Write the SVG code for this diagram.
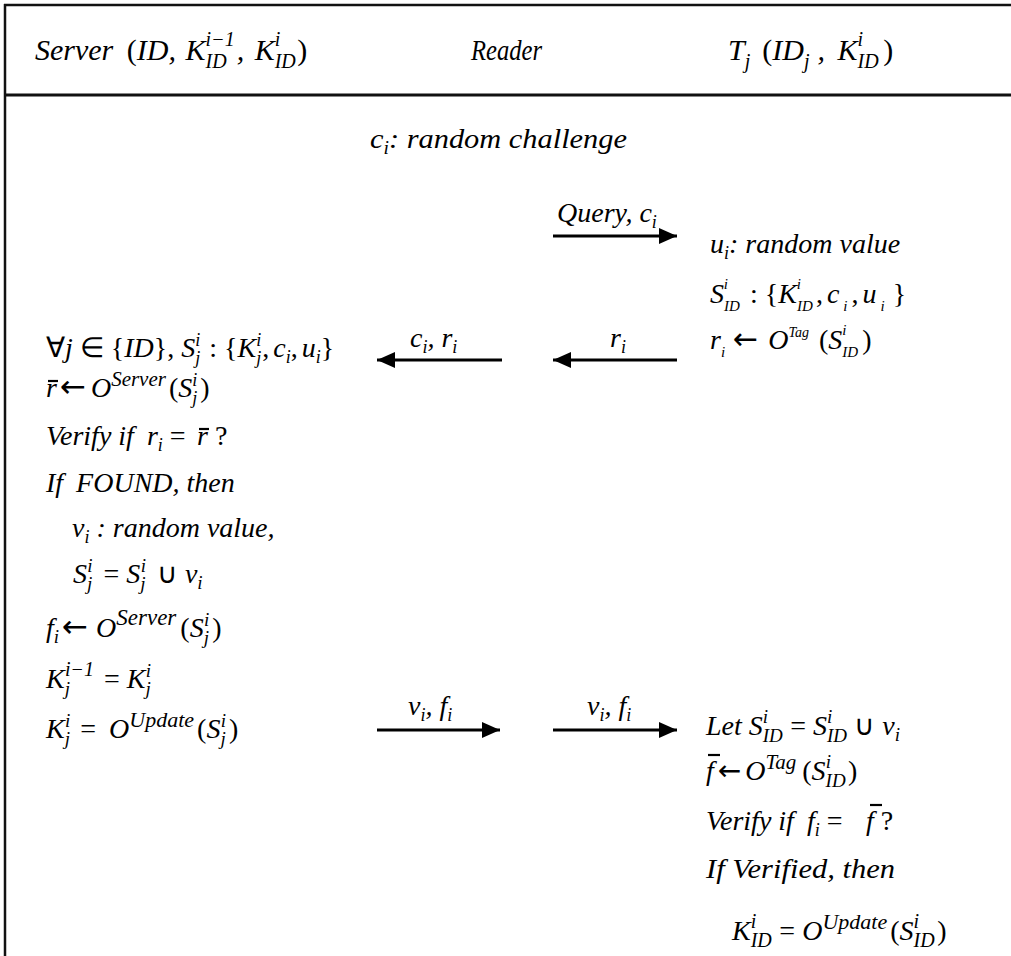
<svg xmlns="http://www.w3.org/2000/svg" width="1011" height="956" viewBox="0 0 1011 956">
<defs>
<marker id="ah" markerUnits="userSpaceOnUse" markerWidth="19" markerHeight="17" refX="18" refY="8" orient="auto">
<path d="M0,0 L18,8 L0,16 Z" fill="#000"/>
</marker>
</defs>
<rect width="1011" height="956" fill="#fff"/>
<g id="frame" stroke="#111" fill="none">
<line x1="4" y1="5" x2="1011" y2="5" stroke-width="2.5"/>
<line x1="5" y1="4" x2="5" y2="956" stroke-width="2.5"/>
<line x1="4" y1="95" x2="1011" y2="95" stroke-width="3"/>
</g>
<g id="header">
<text style="font-family:'Liberation Serif',serif;font-style:italic;font-size:30px" x="35" y="60">Server <tspan style="font-style:normal" dx="6">(</tspan>ID, <tspan dx="2">K</tspan><tspan style="font-size:20px" dy="8">ID</tspan><tspan style="font-size:20px" dx="-21" dy="-22">i−1</tspan><tspan dy="14" dx="2">, </tspan><tspan dx="3">K</tspan><tspan style="font-size:20px" dy="8">ID</tspan><tspan style="font-size:20px" dx="-21" dy="-22">i</tspan><tspan style="font-style:normal" dx="17" dy="14">)</tspan></text>
<text style="font-family:'Liberation Serif',serif;font-style:italic;font-size:30px" x="471" y="60" textLength="71" lengthAdjust="spacingAndGlyphs">Reader</text>
<text style="font-family:'Liberation Serif',serif;font-style:italic;font-size:30px" x="728" y="60">T<tspan style="font-size:20px" dy="8">j</tspan><tspan dy="-8" dx="12" style="font-style:normal">(</tspan>ID<tspan style="font-size:20px" dy="8">j</tspan><tspan dy="-8" dx="8">, </tspan><tspan dx="5">K</tspan><tspan style="font-size:20px" dy="8">ID</tspan><tspan style="font-size:20px" dx="-21" dy="-22">i</tspan><tspan style="font-style:normal" dx="20" dy="14">)</tspan></text>
</g>
<g id="reader">
<text style="font-family:'Liberation Serif',serif;font-style:italic;font-size:28px" x="370" y="148" textLength="257" lengthAdjust="spacingAndGlyphs">c<tspan style="font-size:18px" dy="6">i</tspan><tspan dy="-6">: random challenge</tspan></text>
</g>
<g id="server">
<text style="font-family:'Liberation Serif',serif;font-style:italic;font-size:28px" x="46" y="357"><tspan style="font-style:normal">∀</tspan>j <tspan style="font-style:normal">∈ {</tspan>ID<tspan style="font-style:normal">}, </tspan>S<tspan style="font-size:18px" dy="7">j</tspan><tspan style="font-size:18px" dx="-5" dy="-18">i</tspan><tspan style="font-style:normal" dx="2" dy="11"> : {</tspan>K<tspan style="font-size:18px" dy="7">j</tspan><tspan style="font-size:18px" dx="-5" dy="-18">i</tspan><tspan style="font-style:normal" dx="1" dy="11">,</tspan><tspan dx="4">c</tspan><tspan style="font-size:18px" dy="6">i</tspan><tspan style="font-style:normal" dy="-6">,</tspan><tspan dx="4">u</tspan><tspan style="font-size:18px" dy="6">i</tspan><tspan style="font-style:normal" dy="-6">}</tspan></text>
<text style="font-family:'Liberation Serif',serif;font-style:italic;font-size:28px" x="46" y="397">r<tspan style="font-style:normal;font-family:'DejaVu Sans';font-size:31px" dx="3">←</tspan><tspan dx="5">O</tspan><tspan style="font-size:21px" dy="-11">Server</tspan><tspan style="font-style:normal" dy="11" dx="3">(</tspan>S<tspan style="font-size:18px" dy="7">j</tspan><tspan style="font-size:18px" dx="-5" dy="-18">i</tspan><tspan style="font-style:normal" dx="3" dy="11">)</tspan></text>
<line x1="48" y1="381" x2="58" y2="381" stroke="#000" stroke-width="2.2"/>
<text style="font-family:'Liberation Serif',serif;font-style:italic;font-size:28px" x="46" y="445">Verify if <tspan dx="6">r</tspan><tspan style="font-size:18px" dy="6">i</tspan><tspan style="font-style:normal" dy="-6"> = </tspan></text>
<text style="font-family:'Liberation Serif',serif;font-style:italic;font-size:28px" x="197" y="445">r<tspan style="font-style:normal"> ?</tspan></text>
<line x1="199" y1="429" x2="209" y2="429" stroke="#000" stroke-width="2.2"/>
<text style="font-family:'Liberation Serif',serif;font-style:italic;font-size:28px" x="46" y="492">If <tspan dx="6">FOUND, then</tspan></text>
<text style="font-family:'Liberation Serif',serif;font-style:italic;font-size:28px" x="72" y="537">v<tspan style="font-size:18px" dy="6">i</tspan><tspan dy="-6"> : random value,</tspan></text>
<text style="font-family:'Liberation Serif',serif;font-style:italic;font-size:28px" x="73" y="583">S<tspan style="font-size:19px" dy="7">j</tspan><tspan style="font-size:19px" dx="-5" dy="-18">i</tspan><tspan style="font-style:normal" dx="4" dy="11"> = </tspan>S<tspan style="font-size:19px" dy="7">j</tspan><tspan style="font-size:19px" dx="-5" dy="-18">i</tspan><tspan style="font-style:normal" dx="4" dy="11"> ∪ </tspan>v<tspan style="font-size:19px" dy="6">i</tspan></text>
<text style="font-family:'Liberation Serif',serif;font-style:italic;font-size:28px" x="46" y="637">f<tspan style="font-size:19px" dy="6">i</tspan><tspan style="font-style:normal;font-family:'DejaVu Sans';font-size:31px" dy="-6" dx="3">←</tspan><tspan dx="8">O</tspan><tspan style="font-size:23px" dy="-12">Server</tspan><tspan style="font-style:normal" dy="12" dx="4">(</tspan>S<tspan style="font-size:19px" dy="7">j</tspan><tspan style="font-size:19px" dx="-5" dy="-18">i</tspan><tspan style="font-style:normal" dx="3" dy="11">)</tspan></text>
<text style="font-family:'Liberation Serif',serif;font-style:italic;font-size:28px" x="46" y="688">K<tspan style="font-size:19px" dy="7">j</tspan><tspan style="font-size:20px" dx="-5" dy="-19">i−1</tspan><tspan style="font-style:normal" dy="12" dx="3"> = </tspan>K<tspan style="font-size:19px" dy="7">j</tspan><tspan style="font-size:19px" dx="-5" dy="-18">i</tspan></text>
<text style="font-family:'Liberation Serif',serif;font-style:italic;font-size:28px" x="46" y="738">K<tspan style="font-size:19px" dy="7">j</tspan><tspan style="font-size:19px" dx="-5" dy="-18">i</tspan><tspan style="font-style:normal" dx="3" dy="11"> = </tspan><tspan dx="6">O</tspan><tspan style="font-size:22px" dy="-11">Update</tspan><tspan style="font-style:normal" dy="11" dx="3">(</tspan>S<tspan style="font-size:19px" dy="7">j</tspan><tspan style="font-size:19px" dx="-5" dy="-18">i</tspan><tspan style="font-style:normal" dx="3" dy="11">)</tspan></text>
</g>
<g id="tag">
<text style="font-family:'Liberation Serif',serif;font-style:italic;font-size:28px" x="710" y="253">u<tspan style="font-size:18px" dy="6">i</tspan><tspan dy="-6">: random value</tspan></text>
<text style="font-family:'Liberation Serif',serif;font-style:italic;font-size:28px" x="710" y="303">S<tspan style="font-size:15px" dy="8">ID</tspan><tspan style="font-size:15px" dx="-16" dy="-22">i</tspan><tspan style="font-style:normal" dx="22" dy="14">: {</tspan>K<tspan style="font-size:15px" dy="8">ID</tspan><tspan style="font-size:15px" dx="-16" dy="-22">i</tspan><tspan style="font-style:normal" dx="15" dy="14">,</tspan><tspan dx="4">c</tspan><tspan style="font-size:15px" dy="8" dx="4">i</tspan><tspan style="font-style:normal" dy="-8" dx="4">,</tspan><tspan dx="4">u</tspan><tspan style="font-size:15px" dy="8" dx="4">i</tspan><tspan style="font-style:normal" dy="-8" dx="8">}</tspan></text>
<text style="font-family:'Liberation Serif',serif;font-style:italic;font-size:28px" x="710" y="349">r<tspan style="font-size:15px" dy="8">i</tspan><tspan style="font-style:normal;font-family:'DejaVu Sans';font-size:30px" dy="-8" dx="8">←</tspan><tspan dx="10">O</tspan><tspan style="font-size:14px" dy="-12">Tag</tspan><tspan style="font-style:normal" dy="12" dx="10">(</tspan>S<tspan style="font-size:15px" dy="8">ID</tspan><tspan style="font-size:15px" dx="-16" dy="-22">i</tspan><tspan style="font-style:normal" dx="16" dy="14">)</tspan></text>
<text style="font-family:'Liberation Serif',serif;font-style:italic;font-size:28px" x="706" y="735">Let S<tspan style="font-size:19px" dy="7">ID</tspan><tspan style="font-size:19px" dx="-20" dy="-19">i</tspan><tspan style="font-style:normal" dx="15" dy="12"> = </tspan>S<tspan style="font-size:19px" dy="7">ID</tspan><tspan style="font-size:19px" dx="-20" dy="-19">i</tspan><tspan style="font-style:normal" dx="15" dy="12"> ∪ </tspan>v<tspan style="font-size:19px" dy="6">i</tspan></text>
<text style="font-family:'Liberation Serif',serif;font-style:italic;font-size:28px" x="706" y="780">f<tspan style="font-style:normal;font-family:'DejaVu Sans';font-size:28px" dx="4">←</tspan><tspan dx="4">O</tspan><tspan style="font-size:21px" dy="-11">Tag</tspan><tspan style="font-style:normal" dy="11" dx="6">(</tspan>S<tspan style="font-size:19px" dy="7">ID</tspan><tspan style="font-size:19px" dx="-20" dy="-19">i</tspan><tspan style="font-style:normal" dx="17" dy="12">)</tspan></text>
<line x1="708" y1="755" x2="720" y2="755" stroke="#000" stroke-width="2.2"/>
<text style="font-family:'Liberation Serif',serif;font-style:italic;font-size:28px" x="706" y="830">Verify if <tspan dx="6">f</tspan><tspan style="font-size:18px" dy="6">i</tspan><tspan style="font-style:normal" dy="-6"> = </tspan></text>
<text style="font-family:'Liberation Serif',serif;font-style:italic;font-size:28px" x="866" y="830">f<tspan style="font-style:normal"> ?</tspan></text>
<line x1="870" y1="805" x2="882" y2="805" stroke="#000" stroke-width="2.2"/>
<text style="font-family:'Liberation Serif',serif;font-style:italic;font-size:28px" x="706" y="878" textLength="189" lengthAdjust="spacingAndGlyphs">If Verified, then</text>
<text style="font-family:'Liberation Serif',serif;font-style:italic;font-size:28px" x="732" y="940">K<tspan style="font-size:20px" dy="7">ID</tspan><tspan style="font-size:20px" dx="-21" dy="-19">i</tspan><tspan style="font-style:normal" dx="16" dy="12"> = </tspan>O<tspan style="font-size:22px" dy="-11">Update</tspan><tspan style="font-style:normal" dy="11" dx="3">(</tspan>S<tspan style="font-size:20px" dy="7">ID</tspan><tspan style="font-size:20px" dx="-21" dy="-19">i</tspan><tspan style="font-style:normal" dx="18" dy="12">)</tspan></text>
</g>
<g id="connectors" stroke="#000" stroke-width="3" fill="none" marker-end="url(#ah)">
<line x1="553" y1="236" x2="677" y2="236"/>
<line x1="677" y1="360" x2="553" y2="360"/>
<line x1="502" y1="360" x2="377" y2="360"/>
<line x1="377" y1="730" x2="500" y2="730"/>
<line x1="553" y1="730" x2="677" y2="730"/>
</g>
<g id="labels">
<text style="font-family:'Liberation Serif',serif;font-style:italic;font-size:28px" x="557" y="222">Query, c<tspan style="font-size:18px" dy="6">i</tspan></text>
<text style="font-family:'Liberation Serif',serif;font-style:italic;font-size:28px" x="610" y="347">r<tspan style="font-size:18px" dy="6">i</tspan></text>
<text style="font-family:'Liberation Serif',serif;font-style:italic;font-size:28px" x="410" y="347">c<tspan style="font-size:18px" dy="6">i</tspan><tspan dy="-6">, r</tspan><tspan style="font-size:18px" dy="6">i</tspan></text>
<text style="font-family:'Liberation Serif',serif;font-style:italic;font-size:28px" x="408" y="715">v<tspan style="font-size:18px" dy="6">i</tspan><tspan dy="-6">, f</tspan><tspan style="font-size:18px" dy="6">i</tspan></text>
<text style="font-family:'Liberation Serif',serif;font-style:italic;font-size:28px" x="587" y="715">v<tspan style="font-size:18px" dy="6">i</tspan><tspan dy="-6">, f</tspan><tspan style="font-size:18px" dy="6">i</tspan></text>
</g>
</svg>
